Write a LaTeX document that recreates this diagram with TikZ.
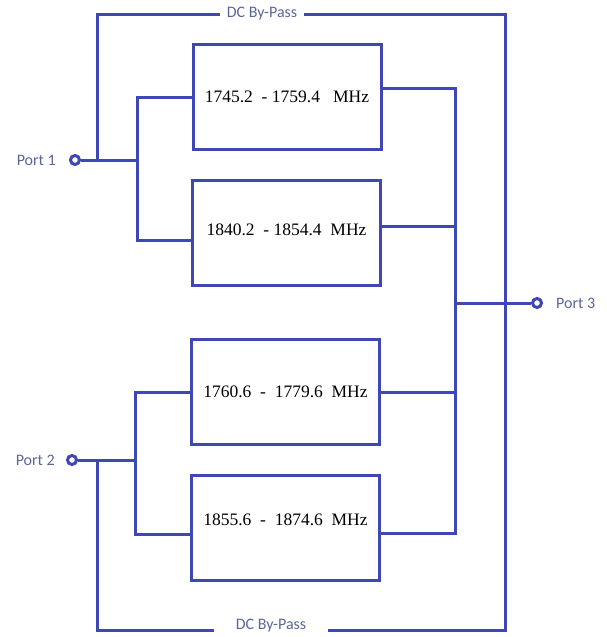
\documentclass[tikz,border=0pt]{standalone}
\usepackage{fontspec}
\usepackage{xcolor}
\usepackage{tikz}
\usetikzlibrary{positioning,calc}
\newfontfamily\serifbox{Liberation Serif}
\newfontfamily\sanslbl{Carlito}
\definecolor{wireblue}{HTML}{3F47B5}
\definecolor{lblblue}{HTML}{5B6699}
\tikzset{
  filt/.style  = {rectangle, draw=wireblue, line width=3pt, minimum width=188pt, minimum height=105pt,
                  inner sep=0pt, font=\serifbox\fontsize{17.5}{20}\selectfont},
  wire/.style  = {draw=wireblue, line width=3pt},
  port/.style  = {circle, draw=wireblue, fill=white, line width=3pt, minimum size=9pt, inner sep=0pt},
  plbl/.style  = {font=\sanslbl\fontsize{16}{18}\selectfont, text=lblblue, inner sep=0pt},
  dclbl/.style = {plbl, inner ysep=3pt, inner xsep=#1},
}

\begin{document}
\begin{tikzpicture}[x=1pt, y=-1pt]
  \useasboundingbox (0,0) rectangle (606,637);
  \node[filt] (f1) at (287,97)    {1745.2~ - 1759.4~~ MHz};
  \node[filt] (f2) at (286.5,233) {\raisebox{6pt}{1840.2~ - 1854.4~ MHz}};
  \node[filt] (f3) at (285.5,392) {1760.6~ -~ 1779.6~ MHz};
  \node[filt] (f4) at (285.5,528) {\raisebox{16pt}{1855.6~ -~ 1874.6~ MHz}};
  \node[port] (p1) at (75,160) {};
  \node[plbl, left=13pt of p1] (p1l) {Port 1};
  \node[port] (p2) at (72,460) {};
  \node[plbl, left=11pt of p2] (p2l) {Port 2};
  \node[port] (p3) at (537,303) {};
  \node[plbl, right=13pt of p3] (p3l) {Port 3};
  \node[dclbl=7pt] (dct) at (262,14) {DC By-Pass};
  \node[dclbl=22pt] (dcb) at (271,626) {DC By-Pass};
  \coordinate (j1) at (137,160);
  \coordinate (b1) at (97,160);
  \coordinate (j2) at (135,460);
  \coordinate (b2) at (97,460);
  \coordinate (bus) at (455,303);
  \coordinate (tr) at (505,14);
  \coordinate (br) at (505,630);
  \draw[wire] (p1) -- (j1);
  \draw[wire] (f1.west) -| (j1) |- ([yshift=-7pt]f2.west);
  \draw[wire] (p2) -- (j2);
  \draw[wire] (f3.west) -| (j2) |- ([yshift=-6pt]f4.west);
  \draw[wire] ([yshift=9pt]f1.east) -| (bus);
  \draw[wire] ([yshift=7pt]f2.east) -| (bus);
  \draw[wire] (f3.east) -| (bus);
  \draw[wire] ([yshift=-5pt]f4.east) -| (bus);
  \draw[wire] (bus) -- (p3);
  \draw[wire] (b1) |- (dct.west);
  \draw[wire] (dct.east) -- (tr) -- (br) -- (br -| dcb.east);
  \draw[wire] (br -| dcb.west) -| (b2);
\end{tikzpicture}
\end{document}
